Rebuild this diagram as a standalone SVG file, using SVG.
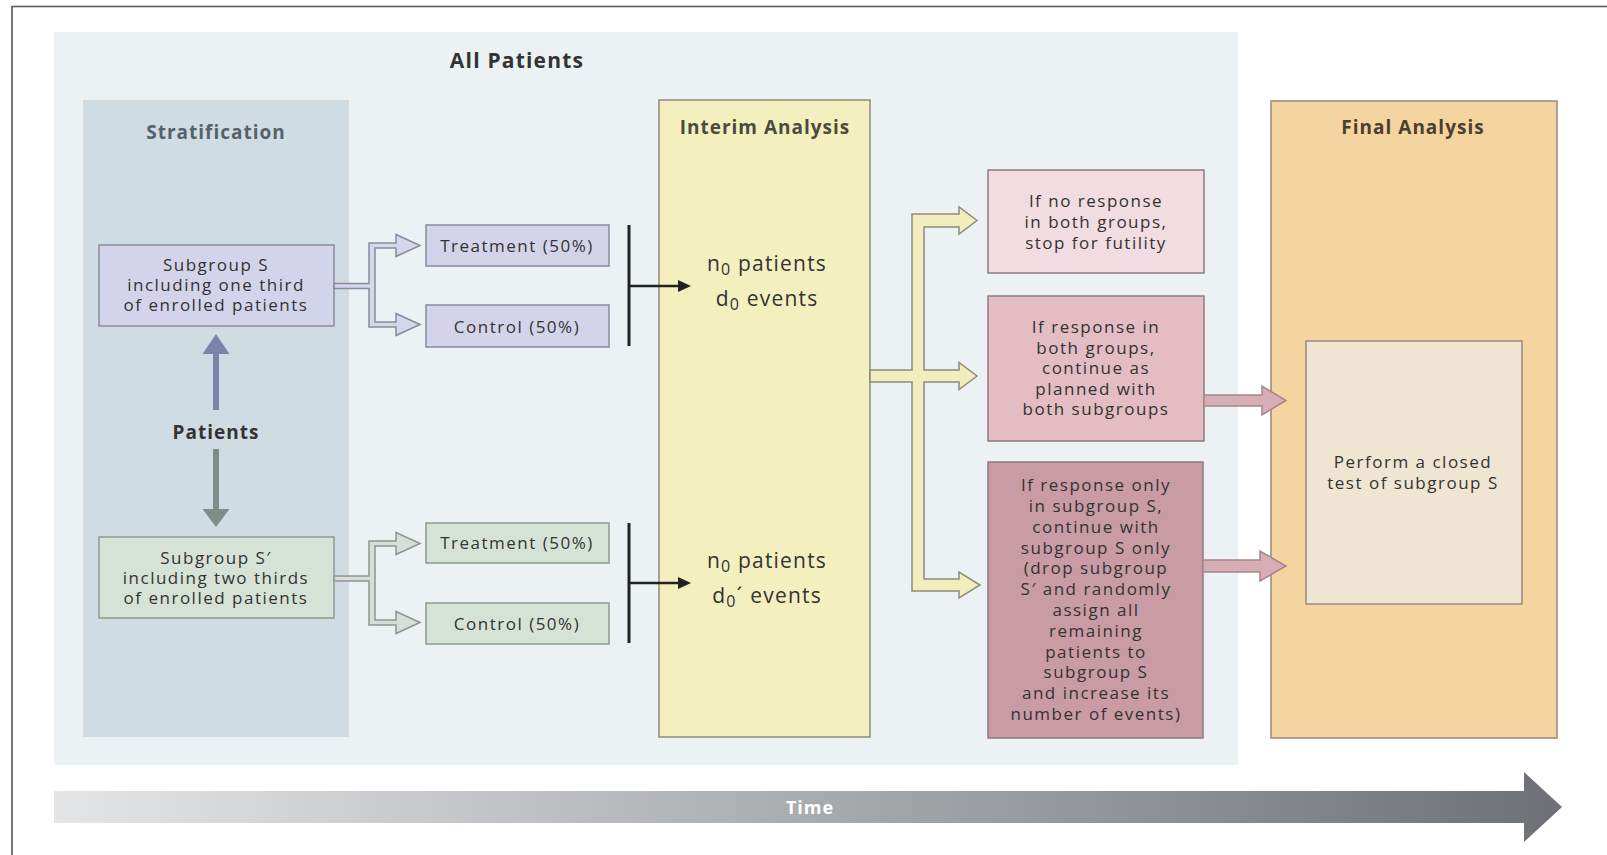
<svg xmlns="http://www.w3.org/2000/svg" width="1607" height="855" viewBox="0 0 1607 855">
<defs>
<linearGradient id="timeGrad" gradientUnits="userSpaceOnUse" x1="54" y1="0" x2="1562" y2="0">
<stop offset="0" stop-color="#e4e5e7"/>
<stop offset="0.5" stop-color="#a9acaf"/>
<stop offset="1" stop-color="#6d7176"/>
</linearGradient>
<style>
.t{font-family:"Open Sans","Liberation Sans",sans-serif;font-size:17px;letter-spacing:1.5px;fill:#333;text-anchor:middle}
.h{font-family:"Open Sans","Liberation Sans",sans-serif;font-size:19px;font-weight:bold;letter-spacing:1px;text-anchor:middle}
.big{font-family:"Open Sans","Liberation Sans",sans-serif;font-size:21px;letter-spacing:1.2px;fill:#333;text-anchor:middle}
.box{stroke-width:1.5}
.lav{fill:#d3d3ea;stroke:#8b8b9b}
.grn{fill:#d5e3d6;stroke:#8d9a91}
.blk{stroke:#222;fill:none}
</style>
</defs>
<rect width="1607" height="855" fill="#ffffff"/>
<path d="M12,855 V6.5 H1607" fill="none" stroke="#555" stroke-width="1.6"/>

<g id="all-patients">
<rect x="54" y="32" width="1184" height="733" fill="#ecf1f3"/>
<text class="h" x="517" y="68" style="font-size:21px;letter-spacing:1.2px" fill="#333">All Patients</text>
</g>

<g id="stratification">
<rect x="83" y="100" width="266" height="637" fill="#d0dce3"/>
<text class="h" x="216" y="139" fill="#56626b">Stratification</text>
<text class="h" x="216" y="439" fill="#333">Patients</text>
</g>

<g id="subgroup-s">
<rect class="box lav" x="99" y="245" width="235" height="81"/>
<text class="t" x="216" y="271">Subgroup S</text>
<text class="t" x="216" y="291">including one third</text>
<text class="t" x="216" y="311">of enrolled patients</text>
</g>

<g id="subgroup-s-prime">
<rect class="box grn" x="99" y="537" width="235" height="81"/>
<text class="t" x="216" y="564">Subgroup S′</text>
<text class="t" x="216" y="584">including two thirds</text>
<text class="t" x="216" y="604">of enrolled patients</text>
</g>

<g id="treatment-s">
<rect class="box lav" x="426" y="225" width="183" height="41"/>
<text class="t" x="517" y="252">Treatment (50%)</text>
</g>
<g id="control-s">
<rect class="box lav" x="426" y="305" width="183" height="42"/>
<text class="t" x="517" y="333">Control (50%)</text>
</g>
<g id="treatment-sp">
<rect class="box grn" x="426" y="523" width="183" height="40"/>
<text class="t" x="517" y="549">Treatment (50%)</text>
</g>
<g id="control-sp">
<rect class="box grn" x="426" y="603" width="183" height="41"/>
<text class="t" x="517" y="630">Control (50%)</text>
</g>

<g id="interim">
<rect class="box" x="659" y="100" width="211" height="637" fill="#f4efbf" stroke="#8e8b7a"/>
<text class="h" x="765" y="134" fill="#4b4a3b">Interim Analysis</text>
<text class="big" x="767" y="271">n<tspan font-size="16" dy="4">0</tspan><tspan dy="-4"> patients</tspan></text>
<text class="big" x="767" y="306">d<tspan font-size="16" dy="4">0</tspan><tspan dy="-4"> events</tspan></text>
<text class="big" x="767" y="568">n<tspan font-size="16" dy="4">0</tspan><tspan dy="-4"> patients</tspan></text>
<text class="big" x="767" y="603">d<tspan font-size="16" dy="4">0</tspan><tspan dy="-4">´ events</tspan></text>
</g>

<g id="futility">
<rect class="box" x="988" y="170" width="216" height="103" fill="#f1dce1" stroke="#8c7b7f"/>
<text class="t" x="1096" y="207">If no response</text>
<text class="t" x="1096" y="228">in both groups,</text>
<text class="t" x="1096" y="249">stop for futility</text>
</g>

<g id="continue-both">
<rect class="box" x="988" y="296" width="216" height="145" fill="#e3bcc4" stroke="#8c7b7f"/>
<text class="t" x="1096" y="333">If response in</text>
<text class="t" x="1096" y="353.5">both groups,</text>
<text class="t" x="1096" y="374">continue as</text>
<text class="t" x="1096" y="394.5">planned with</text>
<text class="t" x="1096" y="415">both subgroups</text>
</g>

<g id="continue-s-only">
<rect class="box" x="988" y="462" width="215" height="276" fill="#c99ba5" stroke="#8c7b7f"/>
<text class="t" x="1096" y="491">If response only</text>
<text class="t" x="1096" y="512">in subgroup S,</text>
<text class="t" x="1096" y="533">continue with</text>
<text class="t" x="1096" y="554">subgroup S only</text>
<text class="t" x="1096" y="574">(drop subgroup</text>
<text class="t" x="1096" y="595">S′ and randomly</text>
<text class="t" x="1096" y="616">assign all</text>
<text class="t" x="1096" y="637">remaining</text>
<text class="t" x="1096" y="658">patients to</text>
<text class="t" x="1096" y="678">subgroup S</text>
<text class="t" x="1096" y="699">and increase its</text>
<text class="t" x="1096" y="720">number of events)</text>
</g>

<g id="final">
<rect class="box" x="1271" y="101" width="286" height="637" fill="#f4d59f" stroke="#958a80"/>
<text class="h" x="1413" y="134" fill="#4b3f2e">Final Analysis</text>
</g>

<g id="closed-test">
<rect class="box" x="1306" y="341" width="216" height="263" fill="#f0e4d2" stroke="#958a80"/>
<text class="t" x="1413" y="468">Perform a closed</text>
<text class="t" x="1413" y="489">test of subgroup S</text>
</g>

<g id="connectors">
<rect x="213" y="352" width="6" height="58" fill="#7c83a8"/>
<polygon points="216,334 229.5,354 202.5,354" fill="#7c83a8"/>
<rect x="213" y="449" width="6" height="62" fill="#7e8e87"/>
<polygon points="216,527 229.5,509 202.5,509" fill="#7e8e87"/>
<path d="M334,283.5 H369 V243 H396 V234.5 L420,245.5 L396,256.5 V248 H375 V322 H396 V313.5 L420,324.5 L396,335.5 V327 H369 V288.5 H334 Z" fill="#d6d6ec" stroke="#8a8a9c" stroke-width="1.5"/>
<path d="M334,576 H369 V541 H396 V532.5 L420,543.5 L396,554.5 V546 H375 V620 H396 V611.5 L420,622.5 L396,633.5 V625 H369 V581 H334 Z" fill="#d8ddd9" stroke="#8d958f" stroke-width="1.5"/>
<line class="blk" x1="629" y1="225" x2="629" y2="346" stroke-width="3"/>
<line class="blk" x1="629" y1="286" x2="680" y2="286" stroke-width="2.5"/>
<polygon points="691,286 678,280 678,292" fill="#222"/>
<line class="blk" x1="629" y1="523" x2="629" y2="643" stroke-width="3"/>
<line class="blk" x1="629" y1="583" x2="680" y2="583" stroke-width="2.5"/>
<polygon points="691,583 678,577 678,589" fill="#222"/>
<path d="M870,370 H912 V214 H959 V207 L977,220.5 L959,234 V227 H924 V370 H959 V362.5 L977,376 L959,389.5 V382 H924 V579 H959 V572 L980,585 L959,598 V591 H912 V382 H870 Z" fill="#f2edbd" stroke="#8e8b7c" stroke-width="1.5"/>
<path d="M1204,395 H1262 V386 L1286,400.5 L1262,415 V406 H1204 Z" fill="#d8aeb6" stroke="#a3868c" stroke-width="1.5"/>
<path d="M1203,560 H1260 V551 L1286,566 L1260,581 V572 H1203 Z" fill="#d8aeb6" stroke="#a3868c" stroke-width="1.5"/>
</g>

<g id="time">
<path d="M54,791 H1524 V772 L1562,807 L1524,842 V823 H54 Z" fill="url(#timeGrad)"/>
<text class="h" x="810" y="814" fill="#ffffff" style="font-size:18px">Time</text>
</g>
</svg>
